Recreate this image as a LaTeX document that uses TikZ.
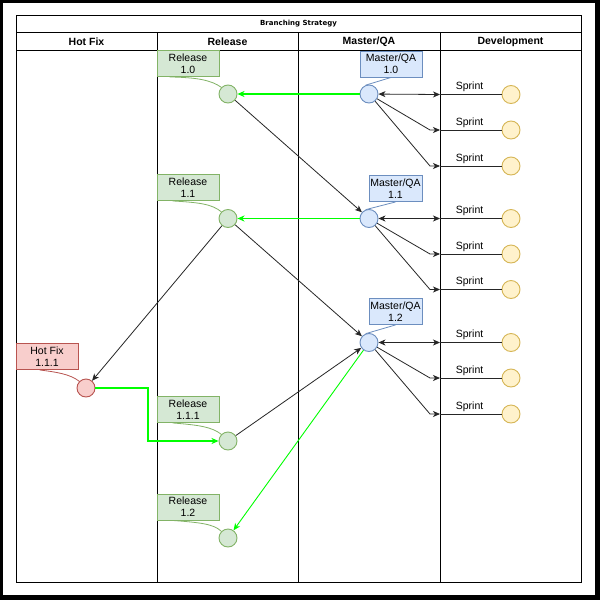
\documentclass[tikz,border=0pt]{standalone}
\usepackage{fontspec}
\setmainfont{Liberation Sans}
\newfontfamily\titlefont{DejaVu Sans}
\usetikzlibrary{arrows.meta}
\definecolor{gfill}{HTML}{D5E8D4}
\definecolor{gline}{HTML}{82B366}
\definecolor{bfill}{HTML}{DAE8FC}
\definecolor{bline}{HTML}{6C8EBF}
\definecolor{rfill}{HTML}{F8CECC}
\definecolor{rline}{HTML}{B85450}
\definecolor{yfill}{HTML}{FFF2CC}
\definecolor{yline}{HTML}{D6B656}
\definecolor{brightgreen}{HTML}{00FF00}
\begin{document}
\begin{tikzpicture}[x=1pt,y=-1pt,
  lane/.style={draw=black, line width=1pt},
  hdr/.style={font=\fontsize{10.5}{12}\selectfont\bfseries, anchor=center},
  dot/.style={circle, minimum size=18pt, inner sep=0pt, line width=0.9pt},
  reldot/.style={dot, draw=gline, fill=gfill},
  masdot/.style={dot, draw=bline, fill=bfill},
  hfdot/.style={dot, draw=rline, fill=rfill},
  spdot/.style={dot, draw=yline, fill=yfill},
  lbl/.style={rectangle, inner sep=0pt, line width=0.9pt, align=center,
    font=\fontsize{10.5}{12}\selectfont, minimum height=26pt},
  rellbl/.style={lbl, draw=gline, fill=gfill, minimum width=62pt},
  maslbl/.style={lbl, draw=bline, fill=bfill},
  hflbl/.style={lbl, draw=rline, fill=rfill, minimum width=62pt},
  tip/.style={-{Stealth[length=7pt,width=6pt,inset=2pt]}},
  bk/.style={draw=black!85, line width=0.8pt},
  grn/.style={draw=brightgreen, line width=1.5pt},
  grnthin/.style={draw=brightgreen, line width=0.9pt},
  sprintlbl/.style={font=\fontsize{10.5}{12}\selectfont, inner sep=0pt, anchor=base}
]
\useasboundingbox (0,0) rectangle (600,600);
% frame
\fill[black] (0,0) rectangle (600,600);
\fill[white] (3,3) rectangle (595,595);

% pool
\draw[lane] (16,15) rectangle (581,582);
\draw[lane] (16,32) -- (581,32);
\draw[lane] (16,50.5) -- (581,50.5);
\draw[lane] (157,32) -- (157,582);
\draw[lane] (298,32) -- (298,582);
\draw[lane] (440,32) -- (440,582);

\node[font=\titlefont\fontsize{7}{8}\selectfont\bfseries] (title) at (298.5,23.5) {Branching Strategy};
\node[hdr] (h1) at (86.5,42) {Hot Fix};
\node[hdr] (h2) at (227.5,42) {Release};
\node[hdr] (h3) at (369,42) {Master/QA};
\node[hdr] (h4) at (510.5,42) {Development};

% dots
\node[reldot] (r10) at (228,94) {};
\node[reldot] (r11) at (228,218.5) {};
\node[reldot] (r111) at (228,441) {};
\node[reldot] (r12) at (228,538) {};
\node[masdot] (m10) at (369,94) {};
\node[masdot] (m11) at (369,218.5) {};
\node[masdot] (m12) at (369,342.5) {};
\node[hfdot] (hf) at (86,388) {};

% sprint dots
\foreach \i/\yy in {1/94.5,2/130,3/166,4/218.5,5/254,6/289.5,7/342.5,8/378,9/414}{
  \node[spdot] (sp\i) at (511,\yy) {};
  \coordinate (sa\i) at (440,\yy);
  \coordinate (sk\i) at (430,\yy);
}

% label boxes
\node[rellbl] (lr10) at (188,63.5) {Release\\1.0};
\node[rellbl] (lr11) at (188,187.5) {Release\\1.1};
\node[rellbl] (lr111) at (188,409.5) {Release\\1.1.1};
\node[rellbl] (lr12) at (188,507) {Release\\1.2};
\node[maslbl, minimum width=62pt] (lm10) at (391,64) {Master/QA\\1.0};
\node[maslbl, minimum width=53pt] (lm11) at (395.5,188.5) {Master/QA\\1.1};
\node[maslbl, minimum width=53pt] (lm12) at (395.5,311.5) {Master/QA\\1.2};
\node[hflbl] (lhf) at (47,356.5) {Hot Fix\\1.1.1};

% callout lines
\draw[gline, line width=0.8pt] ([xshift=13pt]lr10.south west) .. controls (197,77.5) and (211,80) .. (r10.north west);
\draw[gline, line width=0.8pt] ([xshift=16pt]lr11.south west) .. controls (199,202.5) and (212,204) .. (r11.north west);
\draw[gline, line width=0.8pt] ([xshift=16pt]lr111.south west) .. controls (199,425) and (212,427) .. (r111.north west);
\draw[gline, line width=0.8pt] ([xshift=16pt]lr12.south west) .. controls (200,522.5) and (214,524) .. (r12.north west);
\draw[bline, line width=0.8pt] (lm10.south) -- (m10.110);
\draw[bline, line width=0.8pt] (lm11.south) -- (m11.110);
\draw[bline, line width=0.8pt] (lm12.south) -- (m12.110);
\draw[rline, line width=0.8pt] ([xshift=24pt]lhf.south west) .. controls (56,372) and (70,374) .. (hf.north west);

% flow edges
\draw[grn, tip] (m10) -- (r10);
\draw[grn, tip] (m11) -- (r11);
\draw[grnthin, tip] (m12) -- (r12);
\coordinate (hk) at (148,400);
\draw[grn, tip] (hf.east) -| (hk) |- (r111.west);
\draw[bk, tip] (r10) -- (m11);
\draw[bk, tip] (r11) -- (m12);
\draw[bk, tip] (r11) -- (hf);
\draw[bk, tip] (r111) -- (m12);

% master to sprint edges
\draw[bk, {Stealth[length=7pt,width=6pt,inset=2pt]}-{Stealth[length=7pt,width=6pt,inset=2pt]}] (m10) -- (sa1);
\draw[bk, tip] (m10) -- (sk2) -- (sa2);
\draw[bk, tip] (m10) -- (sk3) -- (sa3);
\draw[bk, {Stealth[length=7pt,width=6pt,inset=2pt]}-{Stealth[length=7pt,width=6pt,inset=2pt]}] (m11) -- (sa4);
\draw[bk, tip] (m11) -- (sk5) -- (sa5);
\draw[bk, tip] (m11) -- (sk6) -- (sa6);
\draw[bk, {Stealth[length=7pt,width=6pt,inset=2pt]}-{Stealth[length=7pt,width=6pt,inset=2pt]}] (m12) -- (sa7);
\draw[bk, tip] (m12) -- (sk8) -- (sa8);
\draw[bk, tip] (m12) -- (sk9) -- (sa9);

% sprint lines
\foreach \i in {1,...,9}{
  \draw[bk] (sa\i) -- (sp\i) node[sprintlbl, pos=0.48, yshift=5pt] {Sprint};
}
\end{tikzpicture}
\end{document}
